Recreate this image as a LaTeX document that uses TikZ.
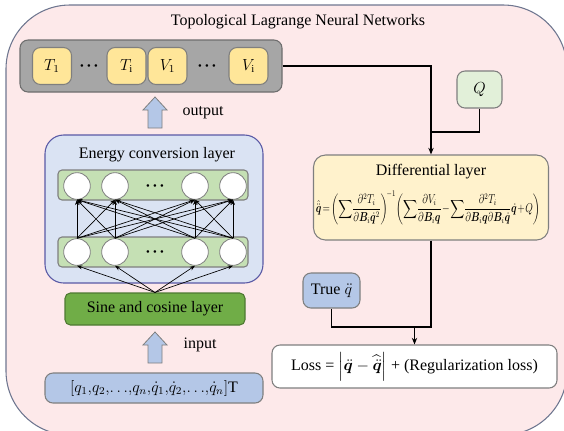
\documentclass[tikz,border=0pt]{standalone}
\usepackage{fontspec}
\setmainfont{Liberation Serif}
\usepackage{amsmath}
\usepackage{bm}
\usepackage{graphicx}
\usetikzlibrary{arrows.meta}

\definecolor{bgpink}{HTML}{FDE9EA}
\definecolor{framegray}{HTML}{6F7790}
\definecolor{bargray}{HTML}{A6A6A6}
\definecolor{bardark}{HTML}{6E6E6E}
\definecolor{cellyellow}{HTML}{FFE699}
\definecolor{energyblue}{HTML}{DAE3F3}
\definecolor{rowgreen}{HTML}{C5E0B4}
\definecolor{sinegreen}{HTML}{70AD47}
\definecolor{inputblue}{HTML}{B4C7E7}
\definecolor{qgreen}{HTML}{E2F0D9}
\definecolor{diffyellow}{HTML}{FFF2CC}
\definecolor{edgegray}{HTML}{7F7F7F}

\newcommand{\bigdots}{{\fontsize{8}{8}\selectfont\textbullet\hspace{2.5pt}\textbullet\hspace{2.5pt}\textbullet}}

\tikzset{
  box/.style={draw=edgegray, line width=0.8pt, rounded corners=6pt, inner sep=0pt, align=center},
  cell/.style={box, fill=cellyellow, minimum width=29.25pt, minimum height=27.75pt},
  neuron/.style={circle, draw=edgegray, line width=0.6pt, fill=white, minimum size=20pt, inner sep=0pt},
  neurons/.style={box, fill=rowgreen, rounded corners=3pt, minimum width=142.5pt, minimum height=22.5pt},
  link/.style={line width=1.2pt, black},
  wire/.style={-{Stealth[length=4pt,width=3pt]}, line width=0.5pt},
  blockarrow/.style={fill=inputblue, draw=edgegray, line width=0.6pt}
}

\begin{document}
\begin{tikzpicture}[x=0.75pt, y=-0.75pt, font=\fontsize{12}{14}\selectfont]
	\useasboundingbox (0,0) rectangle (564,430);

	% Outer frame
	\draw[fill=bgpink, draw=framegray, line width=0.8pt, rounded corners=48pt] (6,5) rectangle (567,435);
	\node (title) at (298,22) {Topological Lagrange Neural Networks};

	% Output bar (top left)
	\node[box, fill=bargray, draw=bardark, minimum width=196.5pt, minimum height=39pt] (bar) at (151,66) {};
	\node[cell] (T1) at (52,66) {$T_1$};
	\node (dotsT) at (89,67) {\bigdots};
	\node[cell] (Ti) at (126.5,66) {$T_\mathrm{i}$};
	\node[cell] (V1) at (167.5,66) {$V_1$};
	\node (dotsV) at (207,67) {\bigdots};
	\node[cell] (Vi) at (248.5,66) {$V_\mathrm{i}$};

	\draw[blockarrow] (148,128) -- (148,110) -- (143,110) -- (155,97) -- (167,110) -- (162,110) -- (162,128) -- cycle;
	\node (outlabel) at (203,113) {output};

	% Energy conversion layer
	\node[box, fill=energyblue, draw=edgegray!70!blue, rounded corners=14pt, minimum width=163.5pt, minimum height=111pt] (energy) at (154,209) {};
	\node (energytitle) at (157,155) {Energy conversion layer};
	\node[neurons] (toprow) at (153,185) {};
	\node[neurons] (botrow) at (153,252) {};
	\foreach \x [count=\i] in {77,115,195,233} {
		\node[neuron] (top\i) at (\x,186) {};
		\node[neuron] (bot\i) at (\x,252) {};
	}
	\node (dotstop) at (155,187) {\bigdots};
	\node (dotsbot) at (155,253) {\bigdots};
	\foreach \i in {1,...,4}
		\foreach \j in {1,...,4}
			\draw[wire] (bot\i.north) -- (top\j.south);

	% Sine and cosine layer
	\node[box, fill=sinegreen, draw=sinegreen!70!black, rounded corners=4pt, minimum width=135pt, minimum height=24pt] (sine) at (155,309) {Sine and cosine layer};
	\foreach \i in {1,...,4}
		\draw[wire] (sine.north) -- (bot\i.south);

	\draw[blockarrow] (148,363) -- (148,345) -- (143,345) -- (155,332) -- (167,345) -- (162,345) -- (162,363) -- cycle;
	\node (inlabel) at (200,345) {input};
	\node[box, fill=inputblue, minimum width=163.5pt, minimum height=22.5pt] (input) at (154,388) {$[q_1{,}q_2{,}{\ldots}{,}q_n{,}\dot{q}_1{,}\dot{q}_2{,}{\ldots}{,}\dot{q}_n]$T};

	% Right branch
	\node[box, fill=qgreen, minimum width=33.75pt, minimum height=27.75pt] (Q) at (479.5,89.5) {$Q$};
	\node[box, fill=diffyellow, rounded corners=9pt, minimum width=176.25pt, minimum height=63.75pt] (diff) at (431,197.5) {};
	\node (difftitle) at (431,172) {Differential layer};
	\node (diffeq) at (428,208) {\resizebox*{168pt}{25pt}{$\displaystyle\hat{\ddot{\bm q}}\!=\!\left(\sum\!\frac{\partial^2T_i}{\partial\bm B_i\dot{\bm q}^2}\right)^{\!-1}\!\left(\sum\!\frac{\partial V_i}{\partial\bm B_i\bm q}\!-\!\sum\!\frac{\partial^2T_i}{\partial\bm B_i\bm q\partial\bm B_i\dot{\bm q}}\dot{\bm q}\!+\!Q\right)$}};
	\node[box, fill=inputblue, minimum width=42.75pt, minimum height=26.25pt] (truebox) at (331.5,290.5) {True $\ddot{q}$};
	\node[box, fill=white, minimum width=213.75pt, minimum height=32.25pt] (loss) at (414.5,366.5) {Loss = $\left|\ddot{\bm q}-\widehat{\ddot{\bm q}}\right|$ + (Regularization loss)};

	\coordinate (qjoin) at (431,132);
	\coordinate (lossjoin) at (431,327);
	\draw[link, -{Stealth[length=5pt,width=4pt]}] (bar.east) -| (diff.north);
	\draw[link] (Q.south) |- (qjoin);
	\draw[link] (diff.south) -- (lossjoin) -| (truebox.south);
	\draw[link, -{Stealth[length=5pt,width=4pt]}] (loss.north |- lossjoin) -- (loss.north);
\end{tikzpicture}
\end{document}
